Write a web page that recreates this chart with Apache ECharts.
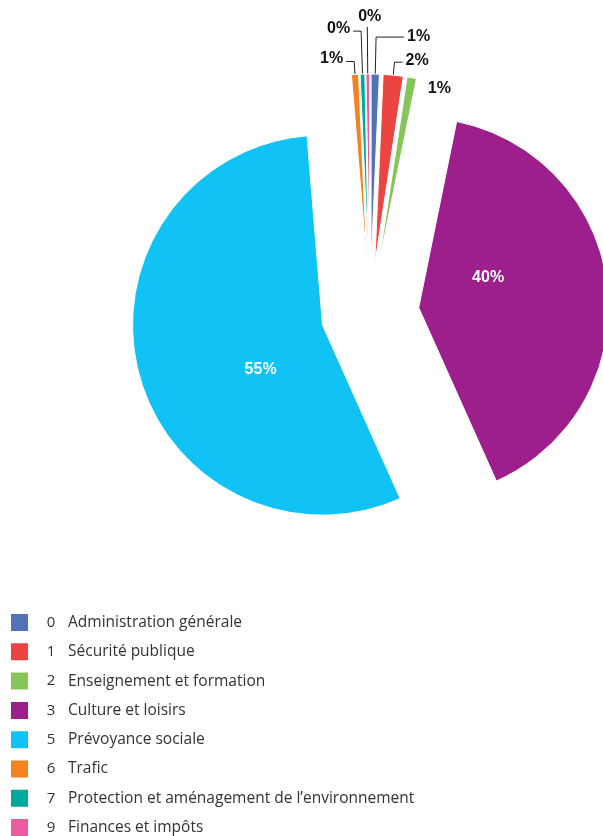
<!DOCTYPE html>
<html>
<head>
<meta charset="utf-8">
<script src="https://cdn.jsdelivr.net/npm/echarts@6/dist/echarts.min.js"></script>
<style>
  html, body { margin: 0; padding: 0; background: #fff; }
  #chart { width: 603px; height: 836px; }
</style>
</head>
<body>
<div id="chart"></div>
<script>
// Budget shares by function (percent of total expenditure)
const codes = ['0', '1', '2', '3', '5', '6', '7', '9'];
const categories = [
  'Administration générale',
  'Sécurité publique',
  'Enseignement et formation',
  'Culture et loisirs',
  'Prévoyance sociale',
  'Trafic',
  'Protection et aménagement de l’environnement',
  'Finances et impôts'
];
const shares = [0.7, 1.7, 0.8, 40.1, 55.4, 0.6, 0.4, 0.3];

const colors = ['#5273b8', '#ec4440', '#86c55a', '#9c1f8b', '#10c3f4', '#f5821f', '#00a99d', '#ec5ba0'];

// label placement per slice: the two large slices carry their value inside,
// the thin ones get elbow leader lines of varying reach
const labelStyle = {
  0: { line: [37, 28] },
  1: { line: [13, 8], nudge: [0, -2] },
  2: { line: [0, 10], hideLine: true, nudge: [3, 11] },
  3: { inside: true, nudge: [-28, -19] },
  4: { inside: true, nudge: [33, 20] },
  5: { line: [13, 8], nudge: [0, -3] },
  6: { line: [43, 8], nudge: [0, -3] },
  7: { line: [47, 0], nudge: [17, -10] }
};

const chart = echarts.init(document.getElementById('chart'), null, { renderer: 'canvas' });

const pieData = shares.map((v, i) => {
  const s = labelStyle[i];
  const item = {
    name: categories[i],
    value: v,
    selected: true,
    itemStyle: { color: colors[i] }
  };
  if (s.inside) {
    item.label = { position: 'inside', color: '#ffffff' };
    item.labelLine = { show: false };
  } else {
    item.labelLine = { show: !s.hideLine, length: s.line[0], length2: s.line[1] };
  }
  return item;
});

const codeOf = {};
categories.forEach((c, i) => { codeOf[c] = codes[i]; });

chart.setOption({
  animation: false,
  backgroundColor: '#ffffff',
  legend: {
    orient: 'vertical',
    left: 9,
    top: 612,
    height: 260,
    padding: 0,
    itemWidth: 19,
    itemHeight: 19,
    itemGap: 8.3,
    icon: 'rect',
    selectedMode: false,
    data: categories.map((c, i) => ({ name: c, itemStyle: { color: colors[i] } })),
    formatter: name => '{c|' + codeOf[name] + '}{n|' + name + '}',
    textStyle: {
      fontFamily: 'Open Sans',
      fontSize: 15.5,
      color: '#333333',
      lineHeight: 19,
      rich: {
        c: { width: 34, align: 'center', fontFamily: 'Open Sans', fontSize: 15, lineHeight: 19, color: '#333333' },
        n: { fontFamily: 'Open Sans', fontSize: 15.5, lineHeight: 19, color: '#333333' }
      }
    }
  },
  series: [{
    type: 'pie',
    center: [370, 313],
    radius: 190,
    startAngle: 90,
    clockwise: true,
    selectedMode: 'multiple',
    selectedOffset: 49,
    percentPrecision: 0,
    avoidLabelOverlap: false,
    silent: true,
    itemStyle: { borderColor: '#ffffff', borderWidth: 1 },
    label: {
      show: true,
      formatter: '{d}%',
      fontFamily: 'Liberation Sans',
      fontWeight: 'bold',
      fontSize: 16,
      color: '#111111',
      distanceToLabelLine: 3
    },
    labelLine: {
      show: true,
      lineStyle: { color: '#222222', width: 1 }
    },
    labelLayout: params => {
      const s = labelStyle[params.dataIndex];
      return s && s.nudge ? { dx: s.nudge[0], dy: s.nudge[1] } : {};
    },
    data: pieData
  }]
});
</script>
</body>
</html>
